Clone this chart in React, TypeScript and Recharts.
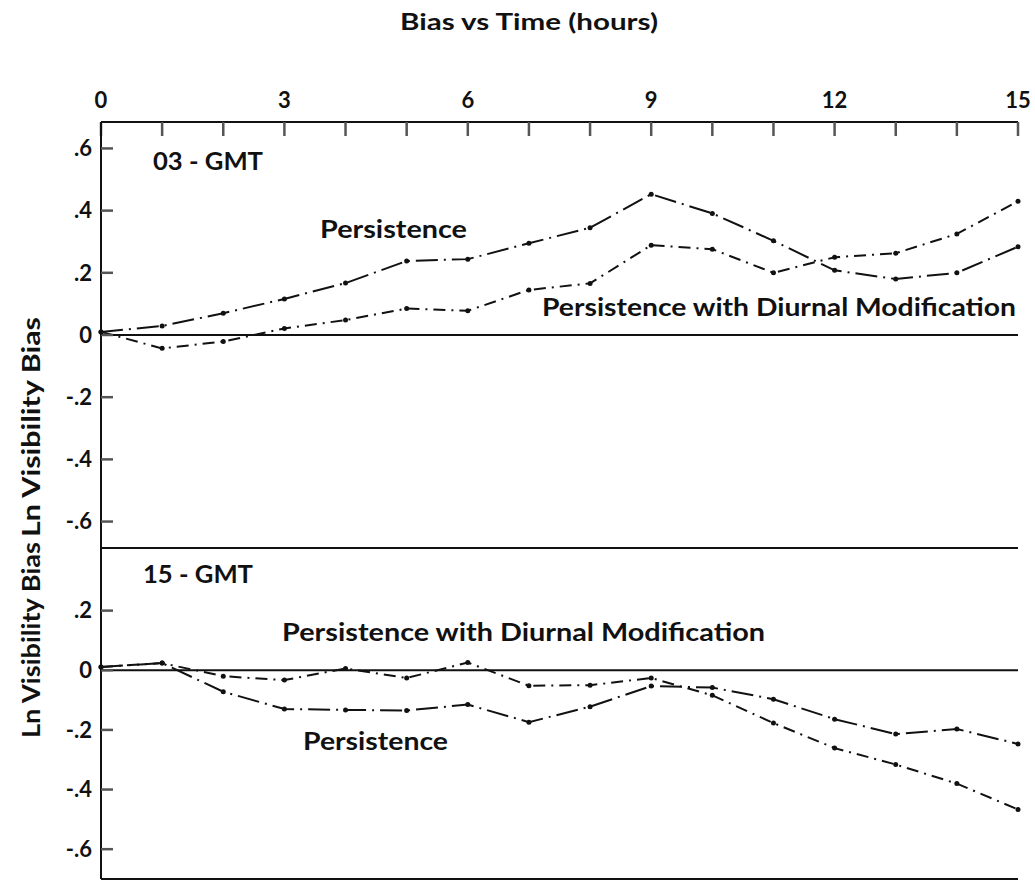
import { LineChart, Line, XAxis, YAxis, ReferenceLine } from "recharts";

const hours = [0, 1, 2, 3, 4, 5, 6, 7, 8, 9, 10, 11, 12, 13, 14, 15];

// 03 GMT panel
const top03Persistence = [0.01, 0.029, 0.07, 0.116, 0.167, 0.238, 0.244, 0.295, 0.345, 0.453, 0.391, 0.303, 0.208, 0.18, 0.2, 0.284];
const top03Diurnal = [0.01, -0.043, -0.021, 0.021, 0.048, 0.085, 0.078, 0.145, 0.166, 0.289, 0.276, 0.2, 0.25, 0.263, 0.325, 0.43];

// 15 GMT panel
const bot15Persistence = [0.011, 0.024, -0.072, -0.13, -0.133, -0.135, -0.115, -0.174, -0.122, -0.053, -0.058, -0.097, -0.164, -0.214, -0.197, -0.247];
const bot15Diurnal = [0.011, 0.024, -0.02, -0.033, 0.006, -0.026, 0.026, -0.052, -0.05, -0.026, -0.084, -0.177, -0.261, -0.316, -0.38, -0.467];

const topTicks = [0.6, 0.4, 0.2, 0, -0.2, -0.4, -0.6];
const bottomTicks = [0.2, 0, -0.2, -0.4, -0.6];

const topData = hours.map((h, i) => ({ h, persistence: top03Persistence[i], diurnal: top03Diurnal[i] }));
const bottomData = hours.map((h, i) => ({ h, persistence: bot15Persistence[i], diurnal: bot15Diurnal[i] }));

const FONT = "Lato, 'Open Sans', sans-serif";
const INK = "#111";
const TICK_INK = "#555";

const fmtBias = (v: number) => {
  if (Math.abs(v) < 1e-9) return "0";
  const s = Math.abs(v).toFixed(1).replace(/^0/, "");
  return v < 0 ? "-" + s : s;
};
const fmtHour = (v: number) => (v % 3 === 0 ? String(v) : "");

const tickFont = { fontSize: 22, fontWeight: 700, fontFamily: FONT, fill: INK };
const axisStroke = { stroke: INK, strokeWidth: 2 };
const tickStroke = { stroke: TICK_INK, strokeWidth: 2.5 };

const dot = { r: 2.5, fill: INK, stroke: "none" };
const longDash = "22 6 2 6";
const shortDash = "12 6 2 6";

const labelStyle = { fontFamily: FONT, fontWeight: 700, fill: INK } as const;

export default function App() {
  return (
    <div style={{ position: "absolute", left: 0, top: 0, width: 1035, height: 882, background: "#fff" }}>
      <svg width={1035} height={882} style={{ position: "absolute", left: 0, top: 0 }}>
        <text x={529} y={30} textAnchor="middle" fontSize={22} textLength={258} lengthAdjust="spacingAndGlyphs" {...labelStyle}>
          Bias vs Time (hours)
        </text>
        <text transform="translate(40,427) rotate(-90)" textAnchor="middle" fontSize={25} textLength={220} lengthAdjust="spacingAndGlyphs" {...labelStyle}>
          Ln Visibility Bias
        </text>
        <text transform="translate(40,640) rotate(-90)" textAnchor="middle" fontSize={25} textLength={196} lengthAdjust="spacingAndGlyphs" {...labelStyle}>
          Ln Visibility Bias
        </text>
        <text x={153} y={170} fontSize={24} textLength={110} lengthAdjust="spacingAndGlyphs" {...labelStyle}>
          03 - GMT
        </text>
        <text x={320} y={238} fontSize={24} textLength={147} lengthAdjust="spacingAndGlyphs" {...labelStyle}>
          Persistence
        </text>
        <text x={542} y={316} fontSize={24} textLength={474} lengthAdjust="spacingAndGlyphs" {...labelStyle}>
          Persistence with Diurnal Modification
        </text>
        <text x={143} y={583} fontSize={24} textLength={110} lengthAdjust="spacingAndGlyphs" {...labelStyle}>
          15 - GMT
        </text>
        <text x={282} y={641} fontSize={24} textLength={483} lengthAdjust="spacingAndGlyphs" {...labelStyle}>
          Persistence with Diurnal Modification
        </text>
        <text x={303} y={750} fontSize={24} textLength={145} lengthAdjust="spacingAndGlyphs" {...labelStyle}>
          Persistence
        </text>
      </svg>

      <LineChart
        style={{ position: "absolute", left: 0, top: 0 }}
        width={1035}
        height={548}
        data={topData}
        margin={{ top: 82, right: 17, left: 0, bottom: 0 }}
      >
        <XAxis
          dataKey="h"
          type="number"
          orientation="top"
          domain={[0, 15]}
          ticks={hours}
          interval={0}
          height={40}
          tickSize={-14}
          tickMargin={28}
          tickFormatter={fmtHour}
          tick={tickFont}
          tickLine={tickStroke}
          axisLine={axisStroke}
        />
        <YAxis
          type="number"
          domain={[-0.685, 0.685]}
          ticks={topTicks}
          interval={0}
          width={101}
          tickSize={-12}
          tickMargin={21}
          tickFormatter={fmtBias}
          tick={tickFont}
          tickLine={tickStroke}
          axisLine={axisStroke}
        />
        <ReferenceLine y={0} stroke={INK} strokeWidth={2} />
        <Line type="linear" dataKey="persistence" stroke={INK} strokeWidth={2} strokeDasharray={longDash} dot={dot} isAnimationActive={false} />
        <Line type="linear" dataKey="diurnal" stroke={INK} strokeWidth={2} strokeDasharray={shortDash} dot={dot} isAnimationActive={false} />
      </LineChart>

      <LineChart
        style={{ position: "absolute", left: 0, top: 546 }}
        width={1035}
        height={336}
        data={bottomData}
        margin={{ top: 0, right: 17, left: 0, bottom: 0 }}
      >
        <XAxis
          xAxisId="t"
          dataKey="h"
          type="number"
          orientation="top"
          domain={[0, 15]}
          ticks={hours}
          height={2}
          tick={false}
          tickLine={false}
          axisLine={axisStroke}
        />
        <XAxis
          dataKey="h"
          type="number"
          orientation="bottom"
          domain={[0, 15]}
          ticks={hours}
          height={3}
          tick={false}
          tickLine={false}
          axisLine={axisStroke}
        />
        <YAxis
          type="number"
          domain={[-0.7, 0.41]}
          ticks={bottomTicks}
          interval={0}
          width={101}
          tickSize={-12}
          tickMargin={21}
          tickFormatter={fmtBias}
          tick={tickFont}
          tickLine={tickStroke}
          axisLine={axisStroke}
        />
        <ReferenceLine y={0} stroke={INK} strokeWidth={2} />
        <Line type="linear" dataKey="persistence" stroke={INK} strokeWidth={2} strokeDasharray={longDash} dot={dot} isAnimationActive={false} />
        <Line type="linear" dataKey="diurnal" stroke={INK} strokeWidth={2} strokeDasharray={shortDash} dot={dot} isAnimationActive={false} />
      </LineChart>
    </div>
  );
}
